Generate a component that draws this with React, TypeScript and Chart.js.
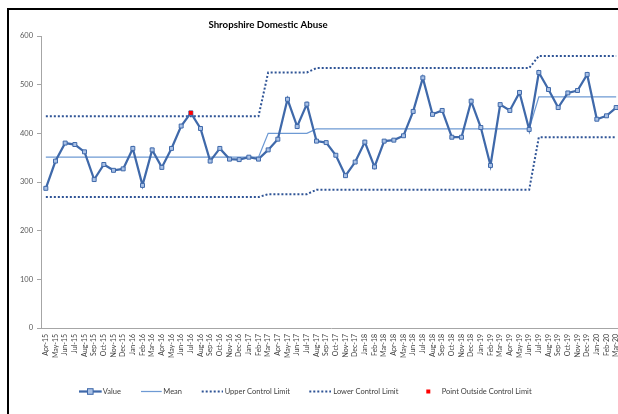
import React, { useEffect, useRef } from "react";
import { Chart, registerables } from "chart.js";

Chart.register(...registerables);

const TITLE = "Shropshire Domestic Abuse";

const categories = [
  "Apr-15","May-15","Jun-15","Jul-15","Aug-15","Sep-15","Oct-15","Nov-15","Dec-15","Jan-16",
  "Feb-16","Mar-16","Apr-16","May-16","Jun-16","Jul-16","Aug-16","Sep-16","Oct-16","Nov-16",
  "Dec-16","Jan-17","Feb-17","Mar-17","Apr-17","May-17","Jun-17","Jul-17","Aug-17","Sep-17",
  "Oct-17","Nov-17","Dec-17","Jan-18","Feb-18","Mar-18","Apr-18","May-18","Jun-18","Jul-18",
  "Aug-18","Sep-18","Oct-18","Nov-18","Dec-18","Jan-19","Feb-19","Mar-19","Apr-19","May-19",
  "Jun-19","Jul-19","Aug-19","Sep-19","Oct-19","Nov-19","Dec-19","Jan-20","Feb-20","Mar-20",
];

const values = [
  287, 343, 380, 377, 362, 305, 336, 324, 327, 369,
  293, 366, 330, 369, 415, 442, 410, 343, 369, 347,
  346, 351, 347, 366, 388, 470, 414, 460, 384, 381,
  355, 313, 341, 382, 331, 384, 386, 395, 445, 514,
  439, 447, 392, 392, 466, 412, 334, 459, 447, 484,
  408, 525, 490, 453, 483, 488, 521, 429, 436, 453,
];

const mean = [
  351, 351, 351, 351, 351, 351, 351, 351, 351, 351,
  351, 351, 351, 351, 351, 351, 351, 351, 351, 351,
  351, 351, 351, 400, 400, 400, 400, 400, 409, 409,
  409, 409, 409, 409, 409, 409, 409, 409, 409, 409,
  409, 409, 409, 409, 409, 409, 409, 409, 409, 409,
  409, 475, 475, 475, 475, 475, 475, 475, 475, 475,
];

const upperLimit = [
  435, 435, 435, 435, 435, 435, 435, 435, 435, 435,
  435, 435, 435, 435, 435, 435, 435, 435, 435, 435,
  435, 435, 435, 525, 525, 525, 525, 525, 534, 534,
  534, 534, 534, 534, 534, 534, 534, 534, 534, 534,
  534, 534, 534, 534, 534, 534, 534, 534, 534, 534,
  534, 559, 559, 559, 559, 559, 559, 559, 559, 559,
];

const lowerLimit = [
  269, 269, 269, 269, 269, 269, 269, 269, 269, 269,
  269, 269, 269, 269, 269, 269, 269, 269, 269, 269,
  269, 269, 269, 275, 275, 275, 275, 275, 284, 284,
  284, 284, 284, 284, 284, 284, 284, 284, 284, 284,
  284, 284, 284, 284, 284, 284, 284, 284, 284, 284,
  284, 392, 392, 392, 392, 392, 392, 392, 392, 392,
];

const outside = [
  null, null, null, null, null, null, null, null, null, null,
  null, null, null, null, null, 442, null, null, null, null,
  null, null, null, null, null, null, null, null, null, null,
  null, null, null, null, null, null, null, null, null, null,
  null, null, null, null, null, null, null, null, null, null,
  null, null, null, null, null, null, null, null, null, null,
];

const yTicks = [0, 100, 200, 300, 400, 500, 600];

const legendLabels = ["Value", "Mean", "Upper Control Limit", "Lower Control Limit", "Point Outside Control Limit"];

const FONT = "Lato, 'Liberation Sans', sans-serif";
const VALUE_COLOR = "#3F69AA";
const MARKER_FILL = "#A9C1E6";
const MEAN_COLOR = "#6E9AD4";
const LIMIT_COLOR = "#2F5496";
const RED = "#FF0000";

const titlePlugin = {
  id: "customTitle",
  afterDraw(chart: any) {
    const ctx = chart.ctx;
    ctx.save();
    ctx.font = `bold 9.7px ${FONT}`;
    ctx.fillStyle = "#000000";
    ctx.textAlign = "center";
    ctx.textBaseline = "middle";
    ctx.fillText(TITLE, 259, 15);
    ctx.restore();
  },
};

const legendPlugin = {
  id: "customLegend",
  afterDraw(chart: any) {
    const ctx = chart.ctx;
    const y = 381.5;
    ctx.save();
    ctx.font = `7.5px ${FONT}`;
    ctx.fillStyle = "#404040";
    ctx.textBaseline = "middle";
    ctx.textAlign = "left";

    // Value
    ctx.strokeStyle = VALUE_COLOR;
    ctx.lineWidth = 2.25;
    ctx.beginPath();
    ctx.moveTo(70, y);
    ctx.lineTo(92.7, y);
    ctx.stroke();
    ctx.fillStyle = MARKER_FILL;
    ctx.fillRect(78.5, y - 2.8, 5.6, 5.6);
    ctx.lineWidth = 1;
    ctx.strokeRect(78.5, y - 2.8, 5.6, 5.6);
    ctx.fillStyle = "#404040";
    ctx.fillText(legendLabels[0], 93.7, y);

    // Mean
    ctx.strokeStyle = MEAN_COLOR;
    ctx.lineWidth = 1.25;
    ctx.beginPath();
    ctx.moveTo(132, y);
    ctx.lineTo(152.7, y);
    ctx.stroke();
    ctx.fillText(legendLabels[1], 154.3, y);

    // UCL
    ctx.strokeStyle = LIMIT_COLOR;
    ctx.lineWidth = 2;
    ctx.setLineDash([2, 2]);
    ctx.beginPath();
    ctx.moveTo(192.7, y);
    ctx.lineTo(214, y);
    ctx.stroke();
    ctx.fillText(legendLabels[2], 215.7, y);

    // LCL
    ctx.beginPath();
    ctx.moveTo(300.3, y);
    ctx.lineTo(322, y);
    ctx.stroke();
    ctx.setLineDash([]);
    ctx.fillText(legendLabels[3], 324.3, y);

    // Red point
    ctx.fillStyle = RED;
    ctx.fillRect(417.3, y - 2, 4, 4);
    ctx.fillStyle = "#404040";
    ctx.fillText(legendLabels[4], 432.7, y);

    ctx.restore();
  },
};

export default function App() {
  const canvasRef = useRef<HTMLCanvasElement | null>(null);

  useEffect(() => {
    const canvas = canvasRef.current;
    if (!canvas) return;
    const chart = new Chart(canvas, {
      type: "line",
      data: {
        labels: categories,
        datasets: [
          {
            label: legendLabels[4],
            data: outside as any,
            showLine: false,
            pointStyle: "rect",
            pointRadius: 2.8,
            pointBackgroundColor: RED,
            pointBorderColor: RED,
            pointBorderWidth: 0,
            borderColor: RED,
            backgroundColor: RED,
          },
          {
            label: legendLabels[0],
            data: values,
            borderColor: VALUE_COLOR,
            borderWidth: 2.25,
            pointStyle: "rect",
            pointRadius: 2.8,
            pointBackgroundColor: MARKER_FILL,
            pointBorderColor: VALUE_COLOR,
            pointBorderWidth: 1,
            tension: 0,
            fill: false,
          },
          {
            label: legendLabels[1],
            data: mean,
            borderColor: MEAN_COLOR,
            borderWidth: 1.25,
            pointRadius: 0,
            tension: 0,
            fill: false,
          },
          {
            label: legendLabels[2],
            data: upperLimit,
            borderColor: LIMIT_COLOR,
            borderWidth: 2,
            borderDash: [2, 2],
            pointRadius: 0,
            tension: 0,
            fill: false,
          },
          {
            label: legendLabels[3],
            data: lowerLimit,
            borderColor: LIMIT_COLOR,
            borderWidth: 2,
            borderDash: [2, 2],
            pointRadius: 0,
            tension: 0,
            fill: false,
          },
        ],
      },
      options: {
        responsive: false,
        devicePixelRatio: 1,
        animation: false,
        layout: { padding: { left: 0, top: 26, right: 28, bottom: 0 } },
        plugins: {
          legend: { display: false },
          title: { display: false },
          tooltip: { enabled: false },
        },
        scales: {
          x: {
            type: "category",
            offset: true,
            grid: { display: false, drawTicks: false },
            border: { display: true, color: "#A6A6A6", width: 1 },
            ticks: {
              autoSkip: false,
              minRotation: 90,
              maxRotation: 90,
              padding: 6,
              color: "#404040",
              font: { family: FONT, size: 7 },
            },
            afterFit(scale: any) {
              scale.height = 102;
            },
          },
          y: {
            min: 0,
            max: 600,
            afterBuildTicks(scale: any) {
              scale.ticks = yTicks.map((v) => ({ value: v }));
            },
            grid: {
              display: true,
              drawOnChartArea: false,
              drawTicks: true,
              tickLength: 4,
              color: "#A6A6A6",
            },
            border: { display: true, color: "#A6A6A6", width: 1 },
            ticks: {
              padding: 4,
              color: "#595959",
              font: { family: FONT, size: 7.5 },
            },
            afterFit(scale: any) {
              scale.width = 32;
            },
          },
        },
      },
      plugins: [titlePlugin, legendPlugin],
    });
    return () => chart.destroy();
  }, []);

  return (
    <div style={{ position: "fixed", left: 0, top: 0, width: 618, height: 414, overflow: "hidden", background: "#fff" }}>
      <div
        style={{
          position: "absolute",
          left: 7,
          top: 8,
          width: 640,
          height: 420,
          borderLeft: "2px solid #000",
          borderTop: "2px solid #000",
        }}
      >
        <canvas ref={canvasRef} width={640} height={420} style={{ display: "block" }} />
      </div>
    </div>
  );
}
